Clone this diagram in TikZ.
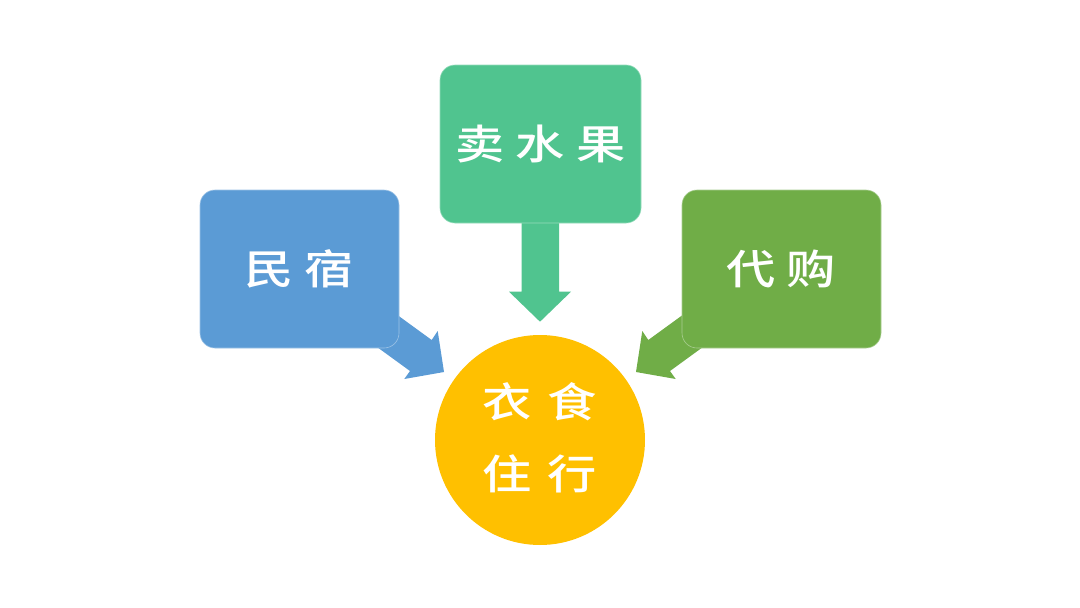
\documentclass[tikz,border=0pt]{standalone}
\usepackage{fontspec}
\newfontfamily\cjkb{Noto Sans CJK SC Medium}[FakeStretch=1.2]
\definecolor{cblue}{HTML}{5B9BD5}
\definecolor{cteal}{HTML}{50C48F}
\definecolor{cgreen}{HTML}{70AD47}
\definecolor{cyell}{HTML}{FFC000}
\begin{document}
\begin{tikzpicture}[x=1pt,y=-1pt,
  box/.style={rounded corners=15pt, minimum width=199pt, minimum height=158pt,
    inner sep=0pt, line width=0.6pt, text=white,
    font=\cjkb\fontsize{41}{44}\selectfont},
  hub/.style={circle, minimum size=210pt, inner sep=0pt, fill=cyell, text=white,
    font=\cjkb\fontsize{41}{44}\selectfont},
  blockarrow/.style={draw=none}]
\fill[white] (0,0) rectangle (1080,608);
\useasboundingbox (0,0) rectangle (1080,608);
% arrows (behind boxes)
\fill[cblue, blockarrow] (383.2,304.7) -- (431.7,340) -- (437.7,331) -- (444,372)
  -- (404.3,379) -- (410,371) -- (361.5,335.7) -- cycle;
\fill[cgreen, blockarrow] (696.8,304.7) -- (648.3,340) -- (642.3,331) -- (636,372)
  -- (675.7,379) -- (670,371) -- (718.5,335.7) -- cycle;
\fill[cteal, blockarrow] (521.7,215) -- (559,215) -- (559,291.7) -- (571,291.7)
  -- (540,321.7) -- (509,291.7) -- (521.7,291.7) -- cycle;
% boxes
\node[box, fill=cblue, draw=cblue!60!white] (minsu) at (299.5,269) {民\hspace{11pt}宿};
\node[box, fill=cteal, draw=cteal!60!white, minimum width=201pt] (fruit) at (540.5,144) {卖\hspace{11pt}水\hspace{11pt}果};
\node[box, fill=cgreen, draw=cgreen!60!white] (daigou) at (781.5,269) {代\hspace{11pt}购};
% hub
\node[hub] (life) at (540,440) {\raisebox{8pt}{\shortstack{衣\hspace{16pt}食\\[30pt]住\hspace{16pt}行}}};
\end{tikzpicture}
\end{document}
